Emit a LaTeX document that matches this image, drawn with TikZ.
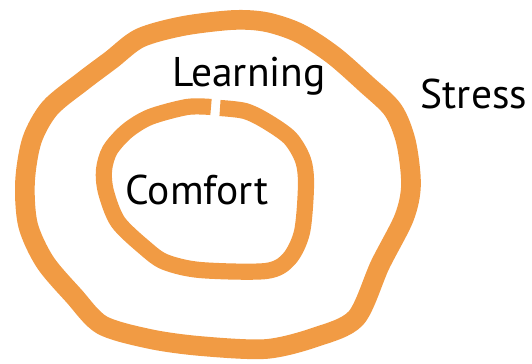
\documentclass[tikz,border=0pt]{standalone}
\usepackage{fontspec}
\setmainfont{PT Sans}
\usepackage{xcolor}
\usepackage{tikz}
\usetikzlibrary{positioning}

\definecolor{zoneorange}{RGB}{241,155,68}
\tikzset{
    zone/.style={draw=zoneorange, line join=round, line cap=round},
    zonelabel/.style={inner sep=0pt, anchor=base, font=\fontsize{29.5}{35}\selectfont}
}

\begin{document}
\begin{tikzpicture}[x=0.025cm, y=-0.025cm]
    \useasboundingbox (0,0) rectangle (532,363);
    % outer ring (learning zone)
    \draw[zone, line width=14pt] plot[smooth cycle, tension=0.5] coordinates {
        (140,38) (183,26) (233,20) (266,22) (299,33) (333,55) (366,84)
        (393,110) (406,142) (411,185) (404,218) (380,265) (356,318)
        (316,337) (266,349) (200,346) (150,339) (102,325) (74,296)
        (45,262) (28,225) (25,182) (32,140) (50,108) (83,81) (111,60)};
    % inner ring (comfort zone), open at the top
    \draw[zone, line width=11.5pt, line cap=butt] plot[smooth, tension=0.5] coordinates {
        (220,108) (245,111) (266,121) (290,138) (303,160) (306,185)
        (302,232) (289,259) (266,271) (200,270) (165,262) (145,248)
        (118,222) (106,192) (104,170) (110,150) (127,131) (150,117)
        (187,107) (211,107)};
    \node[zonelabel] (learning) at (249,86) {Learning};
    \node[zonelabel] (comfort) at (197,204) {Comfort};
    \node[zonelabel] (stress) at (474,108) {Stress};
\end{tikzpicture}
\end{document}
